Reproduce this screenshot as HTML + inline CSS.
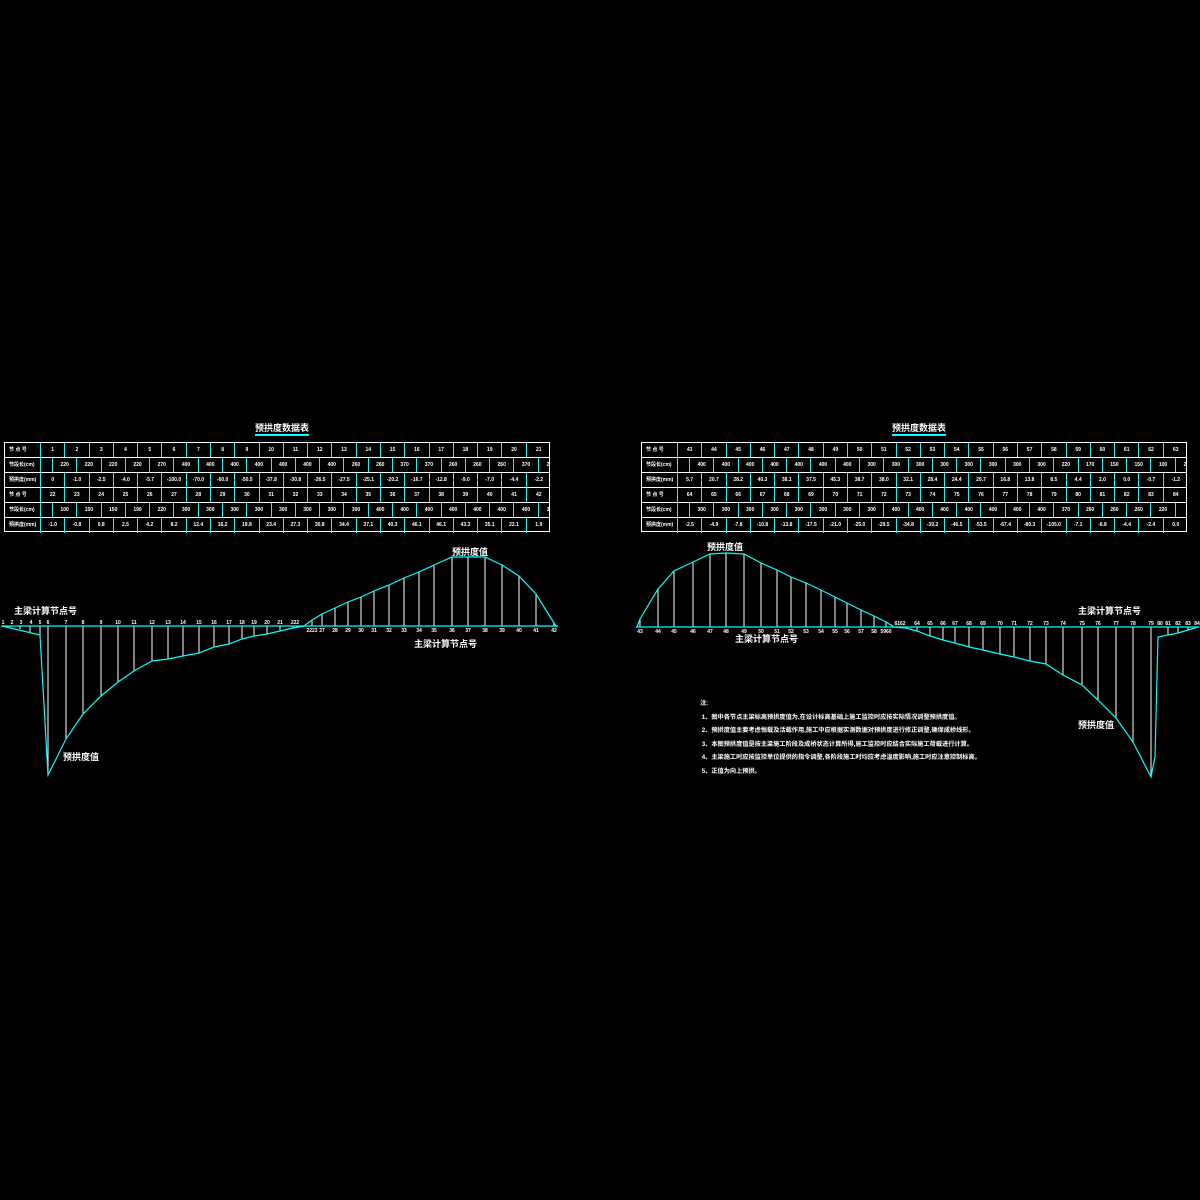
<!DOCTYPE html>
<html><head><meta charset="utf-8"><style>
body{margin:0;background:#000;width:1200px;height:1200px;overflow:hidden;position:relative;font-family:"Liberation Sans","Noto Sans CJK SC",sans-serif;color:#fff}
.tb{position:absolute;top:442px;width:546px;height:90px;border:1px solid #fff;box-sizing:border-box}
.r{display:flex;height:15px;border-bottom:1px solid #fff;box-sizing:border-box;font-size:5px;line-height:14px;font-weight:bold;overflow:hidden}
.r:last-child{border-bottom:none}
.r span{flex:0 0 auto;width:24.29px;text-align:center;border-right:1px solid #0ff;box-sizing:border-box;overflow:hidden;white-space:nowrap}
.r span.h{width:36px;text-align:left;padding-left:4px}
.r span.o{width:12px}
.r span:last-child{border-right:none}
.ttl{position:absolute;top:423px;font-size:9px;font-weight:bold;border-bottom:2px solid #0ff;line-height:11px}
.lb{position:absolute;font-size:9px;font-weight:bold;white-space:nowrap}
.nt{position:absolute;left:700px;top:697px;font-size:6.2px;line-height:13.5px;font-weight:bold;white-space:nowrap}
</style></head><body>
<div class="ttl" style="left:255px">预拱度数据表</div>
<div class="ttl" style="left:892px">预拱度数据表</div>

<div class="tb" style="left:4px">
<div class="r"><span class="h">节 点 号</span><span>1</span><span>2</span><span>3</span><span>4</span><span>5</span><span>6</span><span>7</span><span>8</span><span>9</span><span>10</span><span>11</span><span>12</span><span>13</span><span>14</span><span>15</span><span>16</span><span>17</span><span>18</span><span>19</span><span>20</span><span>21</span></div>
<div class="r"><span class="h">节段长(cm)</span><span class="o"></span><span>220</span><span>220</span><span>220</span><span>220</span><span>270</span><span>400</span><span>400</span><span>400</span><span>400</span><span>400</span><span>400</span><span>400</span><span>260</span><span>260</span><span>370</span><span>370</span><span>260</span><span>260</span><span>260</span><span>370</span><span>270</span></div>
<div class="r"><span class="h">预拱度(mm)</span><span>0</span><span>-1.0</span><span>-2.5</span><span>-4.0</span><span>-5.7</span><span>-100.0</span><span>-70.0</span><span>-60.0</span><span>-50.5</span><span>-37.8</span><span>-30.8</span><span>-26.5</span><span>-27.5</span><span>-25.1</span><span>-20.2</span><span>-16.7</span><span>-12.8</span><span>-9.0</span><span>-7.0</span><span>-4.4</span><span>-2.2</span></div>
<div class="r"><span class="h">节 点 号</span><span>22</span><span>23</span><span>24</span><span>25</span><span>26</span><span>27</span><span>28</span><span>29</span><span>30</span><span>31</span><span>32</span><span>33</span><span>34</span><span>35</span><span>36</span><span>37</span><span>38</span><span>39</span><span>40</span><span>41</span><span>42</span></div>
<div class="r"><span class="h">节段长(cm)</span><span class="o"></span><span>100</span><span>150</span><span>150</span><span>190</span><span>220</span><span>300</span><span>300</span><span>300</span><span>300</span><span>300</span><span>300</span><span>300</span><span>300</span><span>400</span><span>400</span><span>400</span><span>400</span><span>400</span><span>400</span><span>400</span><span>300</span></div>
<div class="r"><span class="h">预拱度(mm)</span><span>-1.0</span><span>-0.8</span><span>0.8</span><span>2.5</span><span>4.2</span><span>8.2</span><span>12.4</span><span>16.2</span><span>19.8</span><span>23.4</span><span>27.3</span><span>30.8</span><span>34.4</span><span>37.1</span><span>40.3</span><span>46.1</span><span>46.1</span><span>43.3</span><span>35.1</span><span>22.1</span><span>1.9</span></div>
</div>

<div class="tb" style="left:641px">
<div class="r"><span class="h">节 点 号</span><span>43</span><span>44</span><span>45</span><span>46</span><span>47</span><span>48</span><span>49</span><span>50</span><span>51</span><span>52</span><span>53</span><span>54</span><span>55</span><span>56</span><span>57</span><span>58</span><span>59</span><span>60</span><span>61</span><span>62</span><span>63</span></div>
<div class="r"><span class="h">节段长(cm)</span><span class="o"></span><span>400</span><span>400</span><span>400</span><span>400</span><span>400</span><span>400</span><span>400</span><span>300</span><span>300</span><span>300</span><span>300</span><span>300</span><span>300</span><span>300</span><span>300</span><span>220</span><span>170</span><span>150</span><span>150</span><span>100</span><span>220</span></div>
<div class="r"><span class="h">预拱度(mm)</span><span>5.7</span><span>20.7</span><span>28.2</span><span>40.3</span><span>38.1</span><span>37.5</span><span>45.3</span><span>38.7</span><span>38.0</span><span>32.1</span><span>28.4</span><span>24.4</span><span>20.7</span><span>16.8</span><span>13.8</span><span>8.5</span><span>4.4</span><span>2.0</span><span>0.0</span><span>-0.7</span><span>-1.2</span></div>
<div class="r"><span class="h">节 点 号</span><span>64</span><span>65</span><span>66</span><span>67</span><span>68</span><span>69</span><span>70</span><span>71</span><span>72</span><span>73</span><span>74</span><span>75</span><span>76</span><span>77</span><span>78</span><span>79</span><span>80</span><span>81</span><span>82</span><span>83</span><span>84</span></div>
<div class="r"><span class="h">节段长(cm)</span><span class="o"></span><span>300</span><span>300</span><span>300</span><span>300</span><span>300</span><span>300</span><span>300</span><span>300</span><span>400</span><span>400</span><span>400</span><span>400</span><span>400</span><span>400</span><span>400</span><span>370</span><span>260</span><span>260</span><span>260</span><span>220</span><span></span></div>
<div class="r"><span class="h">预拱度(mm)</span><span>-2.5</span><span>-4.9</span><span>-7.8</span><span>-10.8</span><span>-13.8</span><span>-17.5</span><span>-21.0</span><span>-25.0</span><span>-29.5</span><span>-34.8</span><span>-39.2</span><span>-46.5</span><span>-53.5</span><span>-67.4</span><span>-80.3</span><span>-105.0</span><span>-7.1</span><span>-6.8</span><span>-4.4</span><span>-2.4</span><span>0.0</span></div>
</div>

<svg width="1200" height="1200" style="position:absolute;left:0;top:0">
<g stroke="#fff" stroke-width="1">
<path d="M10 626V627M20 626V629M30 626V632M40 626V635M48 626V775M66 626V739M83 626V714M101 626V696M118 626V682M134 626V671M152 626V661M168 626V659M183 626V656M199 626V653M214 626V647M229 626V644M242 626V639M254 626V636M267 626V634M280 626V631M293 626V628M312 626V620M322 626V614M335 626V608M348 626V602M361 626V597M374 626V591M389 626V585M404 626V578M419 626V572M434 626V565M452 626V557M468 626V557M485 626V557M502 626V565M519 626V576M536 626V594M554 626V623"/>
<path d="M640 627V619M658 627V589M674 627V571M693 627V562M710 627V554M726 627V553M744 627V554M761 627V563M777 627V570M791 627V577M806 627V583M821 627V590M835 627V597M847 627V603M861 627V610M874 627V616M886 627V622M906 627V628M917 627V631M930 627V636M943 627V640M955 627V643M969 627V647M983 627V650M1000 627V654M1014 627V657M1030 627V661M1046 627V664M1063 627V675M1082 627V685M1098 627V700M1116 627V718M1133 627V742M1151 627V777M1168 627V635M1178 627V633M1188 627V630"/>
</g>
<g fill="none" stroke="#0ff" stroke-width="1.2">
<path d="M1 626H558"/>
<polyline points="2,626 40,635 48,775 66,739 83,714 101,696 118,682 134,671 152,661 168,659 183,656 199,653 214,647 229,644 242,639 254,636 267,634 280,631 293,628 304,626 312,620 322,614 335,608 348,602 361,597 374,591 389,585 404,578 419,572 434,565 452,557 468,557 485,557 502,565 519,576 536,594 554,623 557,627"/>
<path d="M636 627H1199"/>
<polyline points="637,627 640,619 658,589 674,571 693,562 710,554 726,553 744,554 761,563 777,570 791,577 806,583 821,590 835,597 847,603 861,610 874,616 886,622 894,627 906,628 917,631 930,636 943,640 955,643 969,647 983,650 1000,654 1014,657 1030,661 1046,664 1063,675 1082,685 1098,700 1116,718 1133,742 1151,777 1155,757 1158,637 1168,635 1178,633 1188,630 1198,627"/>
</g>
<g fill="#fff" font-size="5" font-weight="bold" font-family="Liberation Sans" text-anchor="middle">
<text x="3" y="624">1</text><text x="12" y="624">2</text><text x="21" y="624">3</text><text x="31" y="624">4</text><text x="40" y="624">5</text><text x="48" y="624">6</text><text x="66" y="624">7</text><text x="83" y="624">8</text><text x="101" y="624">9</text><text x="118" y="624">10</text><text x="134" y="624">11</text><text x="152" y="624">12</text><text x="168" y="624">13</text><text x="183" y="624">14</text><text x="199" y="624">15</text><text x="214" y="624">16</text><text x="229" y="624">17</text><text x="242" y="624">18</text><text x="254" y="624">19</text><text x="267" y="624">20</text><text x="280" y="624">21</text><text x="295" y="624">222</text>
<text x="312" y="632">2223</text><text x="322" y="632">27</text><text x="335" y="632">28</text><text x="348" y="632">29</text><text x="361" y="632">30</text><text x="374" y="632">31</text><text x="389" y="632">32</text><text x="404" y="632">33</text><text x="419" y="632">34</text><text x="434" y="632">35</text><text x="452" y="632">36</text><text x="468" y="632">37</text><text x="485" y="632">38</text><text x="502" y="632">39</text><text x="519" y="632">40</text><text x="536" y="632">41</text><text x="554" y="632">42</text>
<text x="640" y="633">43</text><text x="658" y="633">44</text><text x="674" y="633">45</text><text x="693" y="633">46</text><text x="710" y="633">47</text><text x="726" y="633">48</text><text x="744" y="633">49</text><text x="761" y="633">50</text><text x="777" y="633">51</text><text x="791" y="633">52</text><text x="806" y="633">53</text><text x="821" y="633">54</text><text x="835" y="633">55</text><text x="847" y="633">56</text><text x="861" y="633">57</text><text x="874" y="633">58</text><text x="886" y="633">5960</text>
<text x="900" y="625">6162</text><text x="917" y="625">64</text><text x="930" y="625">65</text><text x="943" y="625">66</text><text x="955" y="625">67</text><text x="969" y="625">68</text><text x="983" y="625">69</text><text x="1000" y="625">70</text><text x="1014" y="625">71</text><text x="1030" y="625">72</text><text x="1046" y="625">73</text><text x="1063" y="625">74</text><text x="1082" y="625">75</text><text x="1098" y="625">76</text><text x="1116" y="625">77</text><text x="1133" y="625">78</text><text x="1151" y="625">79</text><text x="1160" y="625">80</text><text x="1168" y="625">81</text><text x="1178" y="625">82</text><text x="1188" y="625">83</text><text x="1197" y="625">84</text>
</g>
</svg>
<div class="lb" style="left:14px;top:604px">主梁计算节点号</div>
<div class="lb" style="left:414px;top:637px">主梁计算节点号</div>
<div class="lb" style="left:452px;top:545px">预拱度值</div>
<div class="lb" style="left:63px;top:750px">预拱度值</div>
<div class="lb" style="left:707px;top:540px">预拱度值</div>
<div class="lb" style="left:735px;top:632px">主梁计算节点号</div>
<div class="lb" style="left:1078px;top:604px">主梁计算节点号</div>
<div class="lb" style="left:1078px;top:718px">预拱度值</div>
<div class="nt">注:<br>&nbsp;1、图中各节点主梁标高预拱度值为,在设计标高基础上施工监控时应按实际情况调整预拱度值。<br>&nbsp;2、预拱度值主要考虑恒载及活载作用,施工中应根据实测数据对预拱度进行修正调整,确保成桥线形。<br>&nbsp;3、本图预拱度值是按主梁施工阶段及成桥状态计算所得,施工监控时应结合实际施工荷载进行计算。<br>&nbsp;4、主梁施工时应按监控单位提供的指令调整,各阶段施工时均应考虑温度影响,施工时应注意控制标高。<br>&nbsp;5、正值为向上预拱。</div>
</body></html>
